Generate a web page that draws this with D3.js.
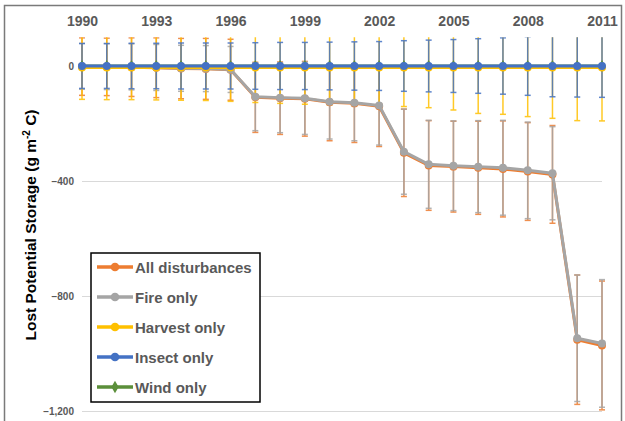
<!DOCTYPE html>
<html>
<head>
<meta charset="utf-8">
<script src="https://cdn.jsdelivr.net/npm/d3@7"></script>
<style>
  body { margin: 0; background: #fff; }
  svg { display: block; font-family: "Liberation Sans", Arial, sans-serif; }
</style>
</head>
<body>
<svg id="chart"></svg>
<script>
// data
var years = d3.range(1990, 2012);
var yearLabels = [1990, 1993, 1996, 1999, 2002, 2005, 2008, 2011];
var yTicks = [0, -400, -800, -1200];

var allDist = [-2, -3, -4, -6, -9, -10, -13, -109, -112, -114, -126, -130, -140, -302, -346, -350, -354, -358, -367, -377, -952, -972];
var fireOnly = [-1, -2, -3, -5, -8, -9, -12, -107, -110, -112, -124, -128, -137, -298, -342, -347, -350, -354, -363, -373, -947, -965];
var harvestOnly = [-5, -5, -5, -5, -5, -5, -5, -5, -5, -5, -5, -5, -5, -5, -5, -5, -5, -5, -5, -5, -5, -5];
var insectOnly = [0, 0, 0, 0, 0, 0, 0, 0, 0, 0, 0, 0, 0, 0, 0, 0, 0, 0, 0, 0, 0, 0];
var windOnly = [0, 0, 0, 0, 0, 0, 0, 0, 0, 0, 0, 0, 0, 0, 0, 0, 0, 0, 0, 0, 0, 0];

var allErr = [100, 100, 102, 104, 105, 106, 106, 122, 126, 130, 134, 136, 140, 152, 156, 158, 162, 167, 170, 170, 225, 224];
var fireErr = [80, 80, 80, 80, 80, 80, 80, 118, 122, 126, 130, 132, 138, 148, 153, 156, 160, 165, 168, 162, 220, 222];
var harvestErr = [111, 112, 112, 113, 114, 115, 118, 122, 125, 128, 130, 133, 136, 136, 140, 148, 160, 163, 171, 177, 185, 186];
var insectErr = [78, 78, 79, 79, 80, 80, 80, 81, 82, 82, 83, 84, 85, 88, 90, 92, 95, 98, 102, 107, 108, 109];
var windErr = [0, 0, 0, 0, 0, 0, 0, 0, 0, 0, 0, 0, 0, 0, 0, 0, 0, 0, 0, 0, 0, 0];

var seriesNames = ["All disturbances", "Fire only", "Harvest only", "Insect only", "Wind only"];
var seriesColors = ["#ED7D31", "#A5A5A5", "#FFC000", "#4472C4", "#5B8F3A"];

var series = [
  { name: seriesNames[0], color: seriesColors[0], values: allDist, err: allErr, marker: "circle" },
  { name: seriesNames[1], color: seriesColors[1], values: fireOnly, err: fireErr, marker: "circle" },
  { name: seriesNames[2], color: seriesColors[2], values: harvestOnly, err: harvestErr, marker: "circle" },
  { name: seriesNames[3], color: seriesColors[3], values: insectOnly, err: insectErr, marker: "circle" },
  { name: seriesNames[4], color: seriesColors[4], values: windOnly, err: windErr, marker: "diamond" }
];
// drawing order: wind underneath, insect on top
var drawOrder = [4, 0, 1, 2, 3];

var W = 625, H = 421;
var svg = d3.select("#chart").attr("width", W).attr("height", H);

var x = d3.scalePoint().domain(years).range([82, 602]);
var y = d3.scaleLinear().domain([-1200, 100]).range([411, 37.25]);

// outer frame
svg.append("rect")
  .attr("x", 4.5).attr("y", 5.5)
  .attr("width", 617).attr("height", 430)
  .attr("fill", "none")
  .attr("stroke", "#7a7a7a")
  .attr("stroke-width", 1.5);

// gridlines
svg.append("g")
  .attr("transform", "translate(82,0)")
  .call(d3.axisLeft(y).tickValues(yTicks.filter(function(d) { return d !== 0; }))
    .tickSize(-(602 - 82)).tickFormat(""))
  .call(function(g) {
    g.select(".domain").remove();
    g.selectAll("line").attr("stroke", "#d9d9d9").attr("stroke-width", 1);
  });

// y tick labels
svg.append("g")
  .attr("transform", "translate(74,0)")
  .call(d3.axisLeft(y).tickValues(yTicks).tickSize(0).tickPadding(0).tickFormat(d3.format(",")))
  .call(function(g) {
    g.select(".domain").remove();
    g.selectAll("text")
      .attr("fill", "#595959")
      .style("font-size", "10px")
      .style("font-weight", "bold")
      .style("font-family", "'Liberation Sans', Arial, sans-serif");
  });

// year labels above the plot
svg.append("g")
  .attr("transform", "translate(0,26)")
  .call(d3.axisTop(x).tickValues(yearLabels).tickSize(0).tickPadding(0))
  .call(function(g) {
    g.select(".domain").remove();
    g.selectAll("text")
      .attr("fill", "#595959")
      .attr("dy", 0)
      .style("font-size", "14px")
      .style("font-weight", "bold")
      .style("font-family", "'Liberation Sans', Arial, sans-serif");
  });

// y axis title
var yTitle = svg.append("text")
  .attr("transform", "translate(36,225) rotate(-90)")
  .attr("text-anchor", "middle")
  .attr("fill", "#000")
  .style("font-size", "15.5px")
  .style("font-weight", "bold");
yTitle.append("tspan").text("Lost Potential Storage (g m");
yTitle.append("tspan").attr("dy", -6).style("font-size", "10px").text("-2");
yTitle.append("tspan").attr("dy", 6).text(" C)");

// clip to plot area
svg.append("clipPath").attr("id", "plotClip")
  .append("rect").attr("x", 70).attr("y", y(100)).attr("width", 545).attr("height", y(-1200) - y(100));

var plot = svg.append("g").attr("clip-path", "url(#plotClip)");

// error bars
drawOrder.forEach(function(si) {
  var s = series[si];
  var g = plot.append("g").attr("stroke", s.color).attr("stroke-width", 1.5).attr("opacity", 0.85);
  years.forEach(function(yr, i) {
    var e = s.err[i];
    if (!e) return;
    var cx = x(yr), top = y(s.values[i] + e), bot = y(s.values[i] - e);
    g.append("line").attr("x1", cx).attr("x2", cx).attr("y1", top).attr("y2", bot);
    g.append("line").attr("x1", cx - 3).attr("x2", cx + 3).attr("y1", top).attr("y2", top);
    g.append("line").attr("x1", cx - 3).attr("x2", cx + 3).attr("y1", bot).attr("y2", bot);
  });
});

// lines and markers
var line = d3.line()
  .x(function(d, i) { return x(years[i]); })
  .y(function(d) { return y(d); });

drawOrder.forEach(function(si) {
  var s = series[si];
  plot.append("path")
    .datum(s.values)
    .attr("d", line)
    .attr("fill", "none")
    .attr("stroke", s.color)
    .attr("stroke-width", 3)
    .attr("stroke-linejoin", "round");
  var sym = s.marker === "diamond" ? d3.symbolDiamond : d3.symbolCircle;
  plot.selectAll(null)
    .data(s.values)
    .enter().append("path")
    .attr("d", d3.symbol().type(sym).size(s.marker === "diamond" ? 40 : 50))
    .attr("transform", function(d, i) { return "translate(" + x(years[i]) + "," + y(d) + ")"; })
    .attr("fill", s.color);
});

// legend
var legend = svg.append("g");
legend.append("rect")
  .attr("x", 91).attr("y", 253)
  .attr("width", 169).attr("height", 149)
  .attr("fill", "#fff")
  .attr("stroke", "#000")
  .attr("stroke-width", 1.5);

series.forEach(function(s, i) {
  var ly = 267 + i * 30;
  legend.append("line")
    .attr("x1", 97).attr("x2", 133)
    .attr("y1", ly).attr("y2", ly)
    .attr("stroke", s.color).attr("stroke-width", 3.5);
  var sym = s.marker === "diamond" ? d3.symbolDiamond : d3.symbolCircle;
  legend.append("path")
    .attr("d", d3.symbol().type(sym).size(s.marker === "diamond" ? 45 : 60))
    .attr("transform", "translate(115," + ly + ")")
    .attr("fill", s.color);
  legend.append("text")
    .attr("x", 135).attr("y", ly + 5.5)
    .attr("fill", "#595959")
    .style("font-size", "15px")
    .style("font-weight", "bold")
    .text(s.name);
});
</script>
</body>
</html>
